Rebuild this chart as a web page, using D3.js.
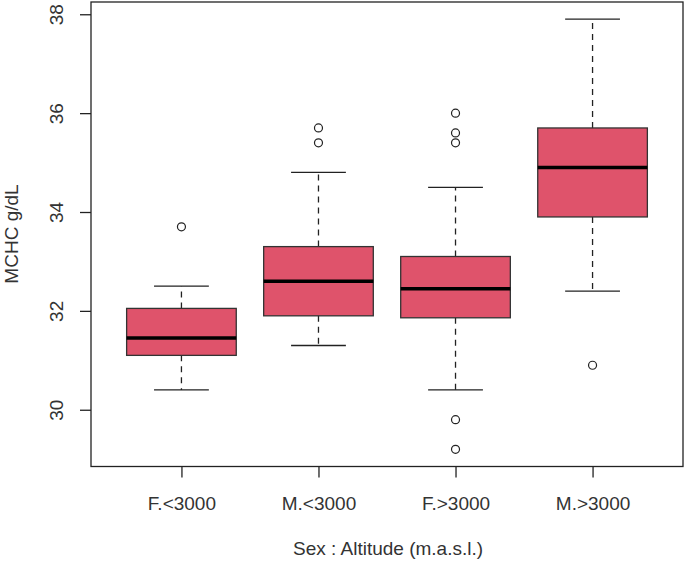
<!DOCTYPE html>
<html><head><meta charset="utf-8">
<script src="https://cdn.jsdelivr.net/npm/d3@7"></script>
<style>body{margin:0;background:#fff}svg{display:block}text{font-family:"Liberation Sans",Arial,sans-serif;fill:#333}</style>
</head><body><svg id="c" width="685" height="562"></svg>
<script>
const categories = ["F.<3000", "M.<3000", "F.>3000", "M.>3000"];
const whiskerLow = [30.4, 31.3, 30.4, 32.4];
const q1 = [31.1, 31.9, 31.86, 33.9];
const median = [31.45, 32.6, 32.45, 34.9];
const q3 = [32.05, 33.3, 33.1, 35.7];
const whiskerHigh = [32.5, 34.8, 34.5, 37.9];
const outliers = [[33.7], [35.7, 35.4], [36.0, 35.6, 35.4, 29.8, 29.2], [30.9]];
const yTicks = [30, 32, 34, 36, 38];
const yTitle = "MCHC g/dL";
const xTitle = "Sex : Altitude (m.a.s.l.)";

const svg = d3.select("#c");
const L = 91, R = 683, T = 2, B = 466.5;
const x = d3.scaleLinear().domain([0.34, 4.66]).range([L, R]);
const y = d3.scaleLinear().domain([28.852, 38.248]).range([B, T]);
const fill = "#DF536B", ink = "#222";
const bw = 0.4, cw = 0.2;

const data = categories.map((c, i) => ({c, i: i + 1, lo: whiskerLow[i], q1: q1[i], med: median[i], q3: q3[i], hi: whiskerHigh[i], out: outliers[i]}));
const g = svg.append("g");
const bx = g.selectAll("g.b").data(data).join("g");
bx.append("line").attr("x1", d => x(d.i)).attr("x2", d => x(d.i)).attr("y1", d => y(d.q3)).attr("y2", d => y(d.hi))
  .attr("stroke", ink).attr("stroke-width", 1.3).attr("stroke-dasharray", "6,5");
bx.append("line").attr("x1", d => x(d.i)).attr("x2", d => x(d.i)).attr("y1", d => y(d.q1)).attr("y2", d => y(d.lo))
  .attr("stroke", ink).attr("stroke-width", 1.3).attr("stroke-dasharray", "6,5");
["hi", "lo"].forEach(k => bx.append("line").attr("x1", d => x(d.i - cw)).attr("x2", d => x(d.i + cw))
  .attr("y1", d => y(d[k])).attr("y2", d => y(d[k])).attr("stroke", ink).attr("stroke-width", 1.3));
bx.append("rect").attr("x", d => x(d.i - bw)).attr("width", d => x(d.i + bw) - x(d.i - bw))
  .attr("y", d => y(d.q3)).attr("height", d => y(d.q1) - y(d.q3))
  .attr("fill", fill).attr("stroke", "#333").attr("stroke-width", 1.3);
bx.append("line").attr("x1", d => x(d.i - bw)).attr("x2", d => x(d.i + bw)).attr("y1", d => y(d.med)).attr("y2", d => y(d.med))
  .attr("stroke", "#000").attr("stroke-width", 3.5);
bx.selectAll("circle").data(d => d.out.map(v => ({i: d.i, v}))).join("circle")
  .attr("cx", d => x(d.i)).attr("cy", d => y(d.v)).attr("r", 4)
  .attr("fill", "none").attr("stroke", ink).attr("stroke-width", 1.2);

svg.append("rect").attr("x", L).attr("y", T).attr("width", R - L).attr("height", B - T)
  .attr("fill", "none").attr("stroke", ink).attr("stroke-width", 1.3);

const ya = svg.append("g").attr("transform", `translate(${L},0)`)
  .call(d3.axisLeft(y).tickValues(yTicks).tickSize(11).tickPadding(0).tickFormat(d3.format("d")));
ya.select(".domain").remove();
ya.selectAll("line").attr("stroke", ink).attr("stroke-width", 1.3);
ya.selectAll("text").attr("font-size", 19).attr("text-anchor", "middle").attr("dy", null)
  .attr("x", 0).attr("y", 0)
  .attr("transform", d => `translate(-35,0) rotate(-90) translate(0,6.5)`);

const xa = svg.append("g").attr("transform", `translate(0,${B})`)
  .call(d3.axisBottom(x).tickValues([1, 2, 3, 4]).tickSize(11).tickPadding(0).tickFormat(d => categories[d - 1]));
xa.select(".domain").remove();
xa.selectAll("line").attr("stroke", ink).attr("stroke-width", 1.3);
xa.selectAll("text").attr("font-size", 19).attr("dy", null).attr("y", 43);

svg.append("text").attr("x", (L + R) / 2 + 1).attr("y", 555).attr("text-anchor", "middle").attr("font-size", 19).text(xTitle);
svg.append("text").attr("transform", `translate(18,234) rotate(-90)`).attr("text-anchor", "middle").attr("font-size", 19).text(yTitle);
</script></body></html>
